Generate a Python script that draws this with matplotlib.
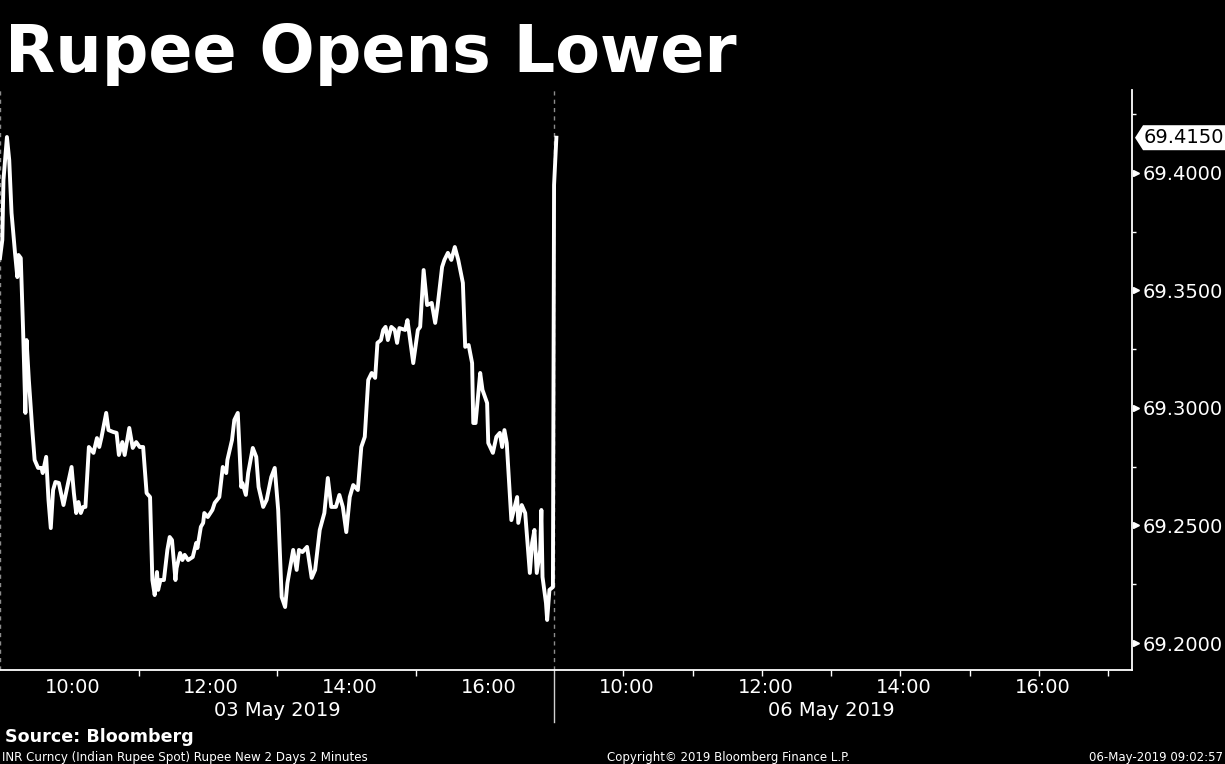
import matplotlib
matplotlib.use('Agg')
import matplotlib.pyplot as plt
import numpy as np
from matplotlib.patches import Polygon
from matplotlib.transforms import ScaledTranslation, offset_copy

# USD/INR spot, 2-minute bars. minutes after 09:00 local
DAY1_MINUTES = [0, 2, 3, 6, 8, 10, 13, 15, 16, 18, 20, 22, 23, 25, 28, 30, 33, 36, 37, 40,
                42, 44, 46, 48, 51, 55, 59, 62, 64, 66, 68, 70, 72, 74, 77, 81, 84, 86, 88, 92,
                94, 98, 101, 103, 106, 108, 112, 115, 118, 121, 124, 127, 130, 132, 134, 136,
                137, 139, 142, 145, 147, 149, 152, 153, 156, 158, 160, 163, 167, 170, 171, 174,
                176, 177, 180, 184, 186, 190, 193, 196, 197, 201, 203, 206, 209, 210, 213, 215,
                219, 222, 224, 228, 231, 235, 238, 241, 244, 247, 249, 254, 257, 259, 262, 266,
                270, 273, 277, 281, 284, 287, 291, 294, 297, 300, 303, 306, 310, 313, 316, 319,
                322, 325, 327, 330, 332, 334, 336, 339, 342, 344, 346, 351, 353, 358, 362, 364,
                367, 370, 374, 377, 379, 383, 385, 388, 391, 394, 397, 401, 403, 406, 409, 410,
                412, 416, 418, 422, 423, 427, 430, 433, 435, 437, 439, 443, 448, 449, 452, 455,
                457, 459, 461, 463, 465, 468, 469, 470, 473, 474, 476, 479]
DAY1_PRICES = [69.3638, 69.3715, 69.3970, 69.4153, 69.4055, 69.3830, 69.3660, 69.3557, 69.3651,
               69.3638, 69.3332, 69.2979, 69.3289, 69.3119, 69.2906, 69.2779, 69.2745, 69.2745,
               69.2723, 69.2792, 69.2609, 69.2489, 69.2651, 69.2685, 69.2681, 69.2587, 69.2681,
               69.2749, 69.2638, 69.2553, 69.2600, 69.2553, 69.2579, 69.2579, 69.2834, 69.2809,
               69.2872, 69.2834, 69.2877, 69.2979, 69.2906, 69.2898, 69.2894, 69.2800, 69.2855,
               69.2800, 69.2915, 69.2830, 69.2855, 69.2834, 69.2834, 69.2638, 69.2621, 69.2268,
               69.2204, 69.2302, 69.2226, 69.2268, 69.2268, 69.2396, 69.2451, 69.2438, 69.2268,
               69.2319, 69.2383, 69.2353, 69.2375, 69.2353, 69.2366, 69.2426, 69.2404, 69.2494,
               69.2511, 69.2553, 69.2536, 69.2566, 69.2596, 69.2621, 69.2749, 69.2723, 69.2779,
               69.2864, 69.2949, 69.2979, 69.2664, 69.2681, 69.2630, 69.2723, 69.2830, 69.2792,
               69.2664, 69.2579, 69.2609, 69.2706, 69.2745, 69.2566, 69.2196, 69.2153, 69.2255,
               69.2396, 69.2311, 69.2396, 69.2387, 69.2409, 69.2277, 69.2311, 69.2481, 69.2553,
               69.2702, 69.2579, 69.2579, 69.2630, 69.2579, 69.2472, 69.2621, 69.2672, 69.2651,
               69.2834, 69.2877, 69.3119, 69.3149, 69.3128, 69.3277, 69.3289, 69.3332, 69.3345,
               69.3289, 69.3345, 69.3332, 69.3277, 69.3340, 69.3332, 69.3374, 69.3191, 69.3332,
               69.3345, 69.3587, 69.3438, 69.3447, 69.3362, 69.3430, 69.3600, 69.3630, 69.3660,
               69.3630, 69.3685, 69.3630, 69.3532, 69.3260, 69.3268, 69.3191, 69.2936, 69.2936,
               69.3149, 69.3077, 69.3021, 69.2851, 69.2809, 69.2877, 69.2894, 69.2834, 69.2906,
               69.2851, 69.2523, 69.2621, 69.2511, 69.2587, 69.2553, 69.2426, 69.2298, 69.2426,
               69.2481, 69.2298, 69.2396, 69.2566, 69.2281, 69.2170, 69.2098, 69.2226, 69.2238]
DAY2_MINUTES = [0, 2]
DAY2_PRICES = [69.3949, 69.4150]

DAY_LABELS = ['03 May 2019', '06 May 2019']
HOUR_LABELS = ['10:00', '12:00', '14:00', '16:00']
Y_TICKS = [69.20, 69.25, 69.30, 69.35, 69.40]

SESSION_HOURS = 8  # 09:00 - 17:00 on each day
BG = 'black'
FG = 'white'

plt.rcParams['font.family'] = ['DejaVu Sans']


def to_axis_hours(day_idx, minutes):
    return [day_idx * SESSION_HOURS + m / 60 for m in minutes]


def prepare_ax(fig):
    ax = fig.add_axes([0.0, 0.1230, 0.9241, 0.7592])
    ax.set_facecolor(BG)
    for side in ('left', 'top'):
        ax.spines[side].set_visible(False)
    for side in ('right', 'bottom'):
        ax.spines[side].set_color(FG)
        ax.spines[side].set_linewidth(1.3)

    ax.set_xlim(0, 16.345)
    ax.set_ylim(69.1885, 69.4353)

    # hour labels at the even hours (bloomberg nudges them a touch right), marks in between
    label_pos, tick_pos = [], []
    for d in range(len(DAY_LABELS)):
        label_pos += [d * SESSION_HOURS + 1.05 + 2 * i for i in range(len(HOUR_LABELS))]
    tick_pos += [2, 4, 6] + [SESSION_HOURS + h for h in range(1, SESSION_HOURS + 1)]
    ax.set_xticks(label_pos)
    ax.set_xticklabels(HOUR_LABELS * len(DAY_LABELS))
    ax.set_xticks(tick_pos, minor=True)
    ax.tick_params(axis='x', which='major', length=0, pad=6, labelsize=14, colors=FG)
    ax.tick_params(axis='x', which='minor', length=4, width=1, colors=FG, direction='out')

    ax.yaxis.tick_right()
    ax.set_yticks(Y_TICKS)
    ax.set_yticklabels([f'{v:.4f}' for v in Y_TICKS])
    ax.set_yticks([v + 0.025 for v in Y_TICKS], minor=True)
    ax.tick_params(axis='y', which='major', length=0, pad=7.5, labelsize=14, colors=FG)
    ax.tick_params(axis='y', which='minor', length=3, width=1, colors=FG, direction='out')

    # little arrow heads on the value axis
    tri = offset_copy(ax.get_yaxis_transform(), fig=fig, x=3, y=0, units='points')
    ax.plot([1.0] * len(Y_TICKS), Y_TICKS, ls='none', marker='>', ms=4.5, color=FG,
            transform=tri, clip_on=False)

    # session boundaries
    ax.axvline(0, color='#8c8c8c', lw=1, ls=(0, (3, 3)))
    ax.axvline(SESSION_HOURS, color='#8c8c8c', lw=1, ls=(0, (3, 3)))
    ax.axvline(SESSION_HOURS, ymin=-0.09, ymax=0, color='#d0d0d0', lw=1, clip_on=False)

    for d, lbl in enumerate(DAY_LABELS):
        ax.text(d * SESSION_HOURS + SESSION_HOURS / 2, -0.069, lbl, color=FG, fontsize=14,
                ha='center', va='center', transform=ax.get_xaxis_transform())
    return ax


def add_last_price(fig, ax, last):
    trans = fig.dpi_scale_trans + ScaledTranslation(1.0, last, ax.get_yaxis_transform())
    pts = np.array([[3, 0], [11, 12.5], [95, 12.5], [95, -12.5], [11, -12.5]]) / 100
    ax.add_patch(Polygon(pts, closed=True, facecolor=FG, edgecolor='none',
                         transform=trans, clip_on=False))
    ax.text(0.115, 0, f'{last:.4f}', color='black', fontsize=14, ha='left', va='center',
            transform=trans)


def main():
    fig = plt.figure(figsize=(12.25, 7.64), dpi=100, facecolor=BG)
    ax = prepare_ax(fig)

    xs = to_axis_hours(0, DAY1_MINUTES) + to_axis_hours(1, DAY2_MINUTES)
    ys = DAY1_PRICES + DAY2_PRICES
    ax.plot(xs, ys, color=FG, lw=2.8, solid_joinstyle='round', zorder=3)
    add_last_price(fig, ax, ys[-1])

    fig.text(0.004, 0.9058, 'Rupee Opens Lower', color=FG, fontsize=47,
             fontweight='bold', va='baseline')
    fig.text(0.004, 0.029, 'Source: Bloomberg', color=FG, fontsize=12.6,
             fontweight='bold', va='baseline')
    fig.text(0.002, 0.004, 'INR Curncy (Indian Rupee Spot) Rupee New 2 Days 2 Minutes',
             color=FG, fontsize=8.6, va='baseline')
    fig.text(0.595, 0.004, 'Copyright\u00a9 2019 Bloomberg Finance L.P.', color=FG,
             fontsize=8.5, ha='center', va='baseline')
    fig.text(0.998, 0.004, '06-May-2019 09:02:57', color=FG, fontsize=8.5,
             ha='right', va='baseline')

    fig.savefig('out.png', dpi=100, facecolor=BG)


if __name__ == '__main__':
    main()
